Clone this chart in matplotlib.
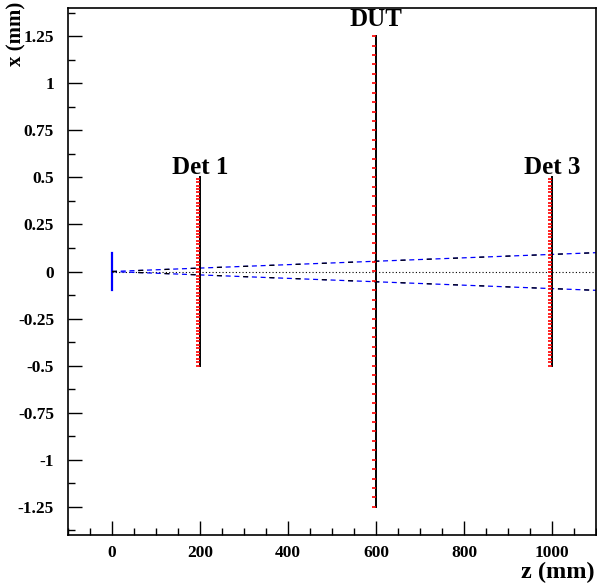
import numpy as np
import matplotlib
matplotlib.use('Agg')
import matplotlib.pyplot as plt
from matplotlib.ticker import MultipleLocator

# detector planes (z position in mm, half height in mm, pitch in mm)
det_names = ['Det 1', 'DUT', 'Det 3']
det_z = [200, 600, 1000]
det_half = [0.5, 1.25, 0.5]
det_pitch = [0.0184, 0.05, 0.0184]
label_x = [0.55, 1.34, 0.55]

# beam envelope
beam_z = [0, 1100]
beam_upper = [0, 0.1]
beam_lower = [0, -0.1]
source_x = [-0.1, 0.1]

plt.rcParams['font.family'] = ['Liberation Serif', 'DejaVu Serif']
plt.rcParams['font.weight'] = 'bold'

fig = plt.figure(figsize=(5.97, 5.85), dpi=100)
ax = fig.add_axes([68/597, 50/585, 528/597, 527/585])

# beam source
ax.plot([0, 0], source_x, color='blue', lw=1.6)
# beam axis
ax.plot(beam_z, [0, 0], color='black', lw=0.8, ls=(0, (1, 2)))
# beam envelope
for b in (beam_upper, beam_lower):
    ax.plot(beam_z, b, color='blue', lw=0.9, ls=(0, (4, 3)))
    ax.plot(beam_z, b, color='black', lw=0.9, ls=(0, (4, 17)))

# detectors with strip boundaries
for name, z, h, p, ly in zip(det_names, det_z, det_half, det_pitch, label_x):
    ax.plot([z, z], [-h, h], color='black', lw=1.4, zorder=3)
    edges = np.arange(-h, h + 1e-9, p)
    ax.plot(np.full(len(edges), z - 3.5), edges, ls='none', marker='_',
            color='red', ms=2.5, mew=1.2, zorder=4)
    ax.text(z, ly, name, ha='center', va='center', fontsize=18, fontweight='bold')

ax.set_xlim(-100, 1100)
ax.set_ylim(-1.4, 1.4)
ax.xaxis.set_major_locator(MultipleLocator(200))
ax.xaxis.set_minor_locator(MultipleLocator(50))
ax.yaxis.set_minor_locator(MultipleLocator(0.125))
ax.set_yticks([-1.25, -1, -0.75, -0.5, -0.25, 0, 0.25, 0.5, 0.75, 1, 1.25])
ax.set_yticklabels(['-1.25', '-1', '-0.75', '-0.5', '-0.25', '0', '0.25', '0.5', '0.75', '1', '1.25'])
ax.tick_params(which='both', direction='in', top=False, right=False, labelsize=12.5)
ax.tick_params(which='major', length=10, width=1)
ax.tick_params(which='minor', length=5, width=1)
ax.tick_params(axis='y', pad=10)
ax.tick_params(axis='x', pad=7)
for s in ax.spines.values():
    s.set_linewidth(1.2)

fig.text(595/597, 1 - 572/585, 'z (mm)', ha='right', va='center', fontsize=17.5, fontweight='bold')
fig.text(16/597, 1 - 34/585, 'x (mm)', ha='center', va='center', rotation=90,
         fontsize=15, fontweight='bold')

fig.savefig('out.png', dpi=100)
